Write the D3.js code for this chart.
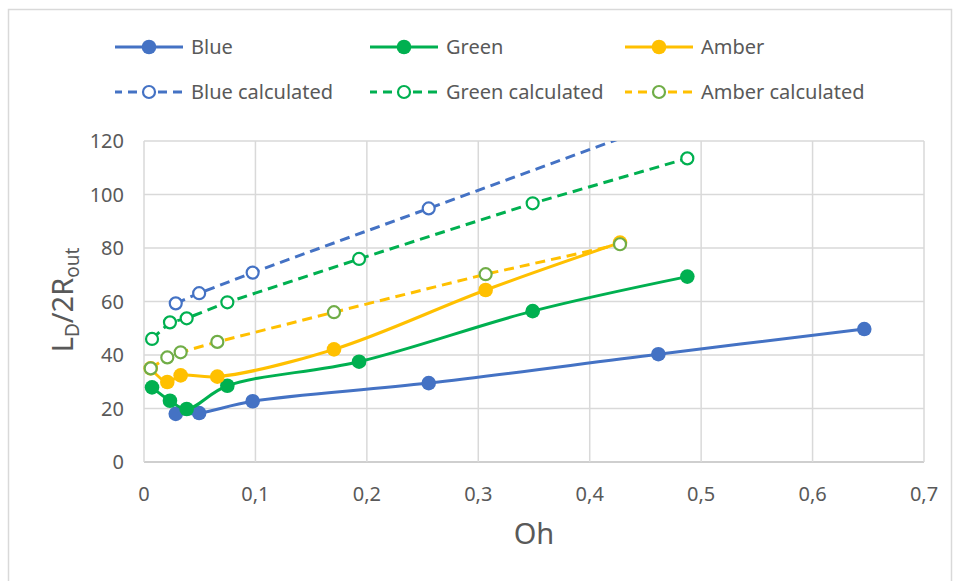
<!DOCTYPE html>
<html>
<head>
<meta charset="utf-8">
<script src="https://cdn.jsdelivr.net/npm/d3@7"></script>
<style>
  body { margin: 0; background: #fff; }
  text { font-family: "Noto Sans", sans-serif; fill: #595959; }
</style>
</head>
<body>
<script>
const w = 960;
const h = 581;

// values
const blueOh = [0.0285, 0.0495, 0.0975, 0.2555, 0.4616, 0.6464];
const blueL = [18.0, 18.3, 22.7, 29.5, 40.3, 49.7];
const blueCalcL = [59.3, 63.1, 70.8, 94.8, 126.2, 154.3];

const greenOh = [0.0072, 0.0233, 0.0383, 0.0748, 0.193, 0.3488, 0.4876];
const greenL = [27.9, 22.9, 19.8, 28.5, 37.5, 56.4, 69.3];
const greenCalcL = [46.0, 52.2, 53.7, 59.7, 75.9, 96.7, 113.5];

const amberOh = [0.006, 0.0209, 0.0329, 0.0658, 0.1705, 0.3066, 0.4272];
const amberL = [35.0, 29.9, 32.4, 31.9, 42.1, 64.3, 82.0];
const amberCalcL = [35.0, 39.1, 41.0, 44.9, 56.0, 70.2, 81.4];

const xTicks = [0, 0.1, 0.2, 0.3, 0.4, 0.5, 0.6, 0.7];
const yTicks = [0, 20, 40, 60, 80, 100, 120];

const series = [
  {name: 'Blue', x: blueOh, y: blueL, color: '#4472C4', mark: '#4472C4', dashed: false},
  {name: 'Green', x: greenOh, y: greenL, color: '#00B050', mark: '#00B050', dashed: false},
  {name: 'Amber', x: amberOh, y: amberL, color: '#FFC000', mark: '#FFC000', dashed: false},
  {name: 'Blue calculated', x: blueOh, y: blueCalcL, color: '#4472C4', mark: '#4472C4', dashed: true},
  {name: 'Green calculated', x: greenOh, y: greenCalcL, color: '#00B050', mark: '#00B050', dashed: true},
  {name: 'Amber calculated', x: amberOh, y: amberCalcL, color: '#FFC000', mark: '#70AD47', dashed: true}
];

const m = {left: 144, right: 924, top: 141, bottom: 462};

const x = d3.scaleLinear().domain([0, 0.7]).range([m.left, m.right]);
const y = d3.scaleLinear().domain([0, 120]).range([m.bottom, m.top]);

const comma = d3.formatLocale({decimal: ',', thousands: '.', grouping: [3], currency: ['', '']});
const fmtX = d => d === 0 ? '0' : comma.format('.1f')(d);

const svg = d3.select('body').append('svg').attr('width', w).attr('height', h);

// chart border
svg.append('rect')
  .attr('x', 8.5).attr('y', 9.5).attr('width', 943).attr('height', 600)
  .attr('fill', 'none').attr('stroke', '#D9D9D9').attr('stroke-width', 1.5);

// gridlines
svg.append('g').selectAll('line')
  .data(yTicks)
  .enter().append('line')
  .attr('x1', m.left).attr('x2', m.right)
  .attr('y1', d => y(d)).attr('y2', d => y(d))
  .attr('stroke', d => d === 0 ? '#BFBFBF' : '#D9D9D9')
  .attr('stroke-width', 1.5);

svg.append('g').selectAll('line')
  .data(xTicks)
  .enter().append('line')
  .attr('x1', d => x(d)).attr('x2', d => x(d))
  .attr('y1', m.top).attr('y2', m.bottom)
  .attr('stroke', '#D9D9D9')
  .attr('stroke-width', 1.5);

// tick labels
svg.append('g').selectAll('text')
  .data(yTicks)
  .enter().append('text')
  .attr('x', m.left - 20)
  .attr('y', d => y(d) + 7)
  .attr('text-anchor', 'end')
  .attr('font-size', '20px')
  .text(d => d);

svg.append('g').selectAll('text')
  .data(xTicks)
  .enter().append('text')
  .attr('x', d => x(d))
  .attr('y', 501)
  .attr('text-anchor', 'middle')
  .attr('font-size', '20px')
  .text(fmtX);

// axis titles
svg.append('text')
  .attr('x', (m.left + m.right) / 2)
  .attr('y', 544)
  .attr('text-anchor', 'middle')
  .attr('font-size', '29px')
  .text('Oh');

const yt = svg.append('text')
  .attr('transform', 'translate(73,300) rotate(-90)')
  .attr('text-anchor', 'middle')
  .attr('font-size', '29px');
yt.append('tspan').text('L');
yt.append('tspan').attr('font-size', '19px').attr('dy', 6).text('D');
yt.append('tspan').attr('dy', -6).text('/2R');
yt.append('tspan').attr('font-size', '19px').attr('dy', 6).text('out');

// plot
svg.append('clipPath').attr('id', 'plot')
  .append('rect')
  .attr('x', m.left - 10).attr('y', m.top).attr('width', m.right - m.left + 20).attr('height', m.bottom - m.top + 10);

const plot = svg.append('g').attr('clip-path', 'url(#plot)');

series.forEach(s => {
  const pts = s.x.map((v, i) => [v, s.y[i]]);
  const line = d3.line()
    .x(d => x(d[0]))
    .y(d => y(d[1]))
    .curve(s.dashed ? d3.curveLinear : d3.curveCatmullRom.alpha(0.5));

  const g = plot.append('g');
  g.append('path')
    .attr('d', line(pts))
    .attr('fill', 'none')
    .attr('stroke', s.color)
    .attr('stroke-width', 3)
    .attr('stroke-dasharray', s.dashed ? '10,6' : null);

  g.selectAll('circle')
    .data(pts.filter(d => d[1] <= 120))
    .enter().append('circle')
    .attr('cx', d => x(d[0]))
    .attr('cy', d => y(d[1]))
    .attr('r', s.dashed ? 6 : 7.3)
    .attr('fill', s.dashed ? '#fff' : s.mark)
    .attr('stroke', s.mark)
    .attr('stroke-width', s.dashed ? 2.2 : 0);
});

// legend
const legX = [115, 370, 625];
const legY = [47, 92];

const leg = svg.append('g').selectAll('g')
  .data(series)
  .enter().append('g')
  .attr('transform', (d, i) => `translate(${legX[i % 3]},${legY[Math.floor(i / 3)]})`);

leg.append('line')
  .attr('x1', 0).attr('x2', 68).attr('y1', 0).attr('y2', 0)
  .attr('stroke', d => d.color)
  .attr('stroke-width', 3)
  .attr('stroke-dasharray', d => d.dashed ? '9,6' : null)
  .attr('stroke-dashoffset', d => d.dashed ? 2 : null);

leg.append('circle')
  .attr('cx', 34).attr('cy', 0)
  .attr('r', d => d.dashed ? 6 : 7.3)
  .attr('fill', d => d.dashed ? '#fff' : d.mark)
  .attr('stroke', d => d.mark)
  .attr('stroke-width', d => d.dashed ? 2.2 : 0);

leg.append('text')
  .attr('x', 76).attr('y', 7)
  .attr('font-size', '20px')
  .text(d => d.name);
</script>
</body>
</html>
